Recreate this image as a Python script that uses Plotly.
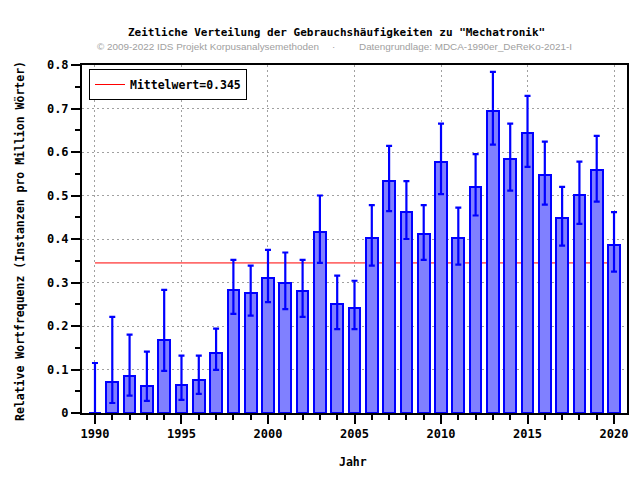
import plotly.graph_objects as go

years = list(range(1990, 2021))
values = [0.0, 0.072, 0.086, 0.063, 0.167, 0.065, 0.077, 0.139, 0.283, 0.275,
          0.311, 0.298, 0.280, 0.415, 0.250, 0.242, 0.403, 0.534, 0.463, 0.412,
          0.578, 0.403, 0.520, 0.695, 0.583, 0.644, 0.548, 0.449, 0.502, 0.558,
          0.387]
upper = [0.115, 0.221, 0.180, 0.141, 0.283, 0.132, 0.132, 0.194, 0.352, 0.339,
         0.375, 0.369, 0.352, 0.500, 0.316, 0.304, 0.478, 0.614, 0.533, 0.478,
         0.665, 0.472, 0.595, 0.784, 0.665, 0.729, 0.624, 0.520, 0.578, 0.637,
         0.462]
lower = [0.0, 0.023, 0.040, 0.028, 0.097, 0.030, 0.044, 0.099, 0.228, 0.224,
         0.255, 0.239, 0.221, 0.345, 0.193, 0.193, 0.339, 0.464, 0.400, 0.352,
         0.503, 0.341, 0.454, 0.617, 0.511, 0.566, 0.479, 0.385, 0.435, 0.486,
         0.325]
mean_value = 0.345
y_ticks = [0, 0.1, 0.2, 0.3, 0.4, 0.5, 0.6, 0.7, 0.8]
y_labels = ["0", "0.1", "0.2", "0.3", "0.4", "0.5", "0.6", "0.7", "0.8"]
x_ticks = [1990, 1995, 2000, 2005, 2010, 2015, 2020]

title = 'Zeitliche Verteilung der Gebrauchshäufigkeiten zu "Mechatronik"'
sub_left = "© 2009-2022 IDS Projekt Korpusanalysemethoden"
sub_right = "Datengrundlage: MDCA-1990er_DeReKo-2021-I"

MONO = "DejaVu Sans Mono"
SANS = "Liberation Sans"
L, R, T, B = 82, 627, 65, 413


def px_x(p):
    return (p - L) / (R - L)


def px_y(p):
    return (B - p) / (B - T)


fig = go.Figure()
fig.add_trace(go.Bar(
    x=years, y=values, width=0.68,
    marker=dict(color="#8080ff", line=dict(color="#0000ff", width=2)),
    error_y=dict(type="data", symmetric=False,
                 array=[u - v for u, v in zip(upper, values)],
                 arrayminus=[v - l for v, l in zip(values, lower)],
                 color="#0000ff", thickness=2.2, width=3),
    showlegend=False, hoverinfo="skip",
))

fig.add_shape(type="line", x0=years[0], x1=years[-1], y0=mean_value, y1=mean_value,
              xref="x", yref="y", line=dict(color="red", width=1), layer="between",
              showlegend=True, name="Mittelwert=%.3f" % mean_value)

fig.update_layout(
    width=640, height=480,
    margin=dict(l=L, r=640 - R, t=T, b=480 - B),
    paper_bgcolor="white", plot_bgcolor="white",
    bargap=0,
    legend=dict(x=px_x(89), y=px_y(69), xanchor="left", yanchor="top",
                bordercolor="black", borderwidth=1, bgcolor="white",
                font=dict(family=MONO, size=11.5, color="black", weight="bold"),
                itemwidth=30, valign="middle"),
    showlegend=True,
    font=dict(family=MONO, color="black"),
)

grid_dash = "2px,3px"
fig.update_xaxes(
    range=[1989.25, 2020.75], tickvals=x_ticks, ticks="outside", ticklen=9,
    tickwidth=2, tickcolor="black",
    minor=dict(dtick=1, tick0=1990, ticks="outside", ticklen=5, tickwidth=2,
               tickcolor="black", showgrid=False),
    showline=True, linecolor="black", linewidth=2, mirror=True,
    showgrid=True, gridcolor="#a0a0a0", griddash=grid_dash, gridwidth=1,
    tickfont=dict(family=MONO, size=12, color="black", weight="bold"),
    zeroline=False,
)
fig.update_yaxes(
    range=[0, 0.8], tickvals=y_ticks, ticktext=y_labels, ticks="outside", ticklen=9,
    tickwidth=2, tickcolor="black",
    minor=dict(dtick=0.05, tick0=0, ticks="outside", ticklen=5, tickwidth=2,
               tickcolor="black", showgrid=False),
    showline=True, linecolor="black", linewidth=2, mirror=True,
    showgrid=True, gridcolor="#a0a0a0", griddash=grid_dash, gridwidth=1,
    tickfont=dict(family=MONO, size=12, color="black", weight="bold"),
    zeroline=False,
)

SUB_SIZE = 9.9
SUB_COLOR = "#a0a0a0"
ann = [
    dict(text=title, x=px_x(336), y=px_y(33), font=dict(family=MONO, size=11, weight="bold", color="black")),
    dict(text=sub_left, x=px_x(95), y=px_y(46), xanchor="left",
         font=dict(family=SANS, size=SUB_SIZE, color=SUB_COLOR)),
    dict(text="·", x=px_x(333), y=px_y(46),
         font=dict(family=SANS, size=SUB_SIZE, color=SUB_COLOR)),
    dict(text=sub_right, x=px_x(357), y=px_y(46), xanchor="left",
         font=dict(family=SANS, size=SUB_SIZE, color=SUB_COLOR)),
    dict(text="Jahr", x=px_x(353), y=px_y(462),
         font=dict(family=MONO, size=11.5, weight="bold", color="black")),
    dict(text="Relative Wortfrequenz (Instanzen pro Million Wörter)", x=px_x(20), y=px_y(241),
         textangle=-90, font=dict(family=MONO, size=11.5, weight="bold", color="black")),
]
for a in ann:
    a.setdefault("xanchor", "center")
    fig.add_annotation(xref="paper", yref="paper", showarrow=False, yanchor="middle", **a)

fig.write_html("out.html")
